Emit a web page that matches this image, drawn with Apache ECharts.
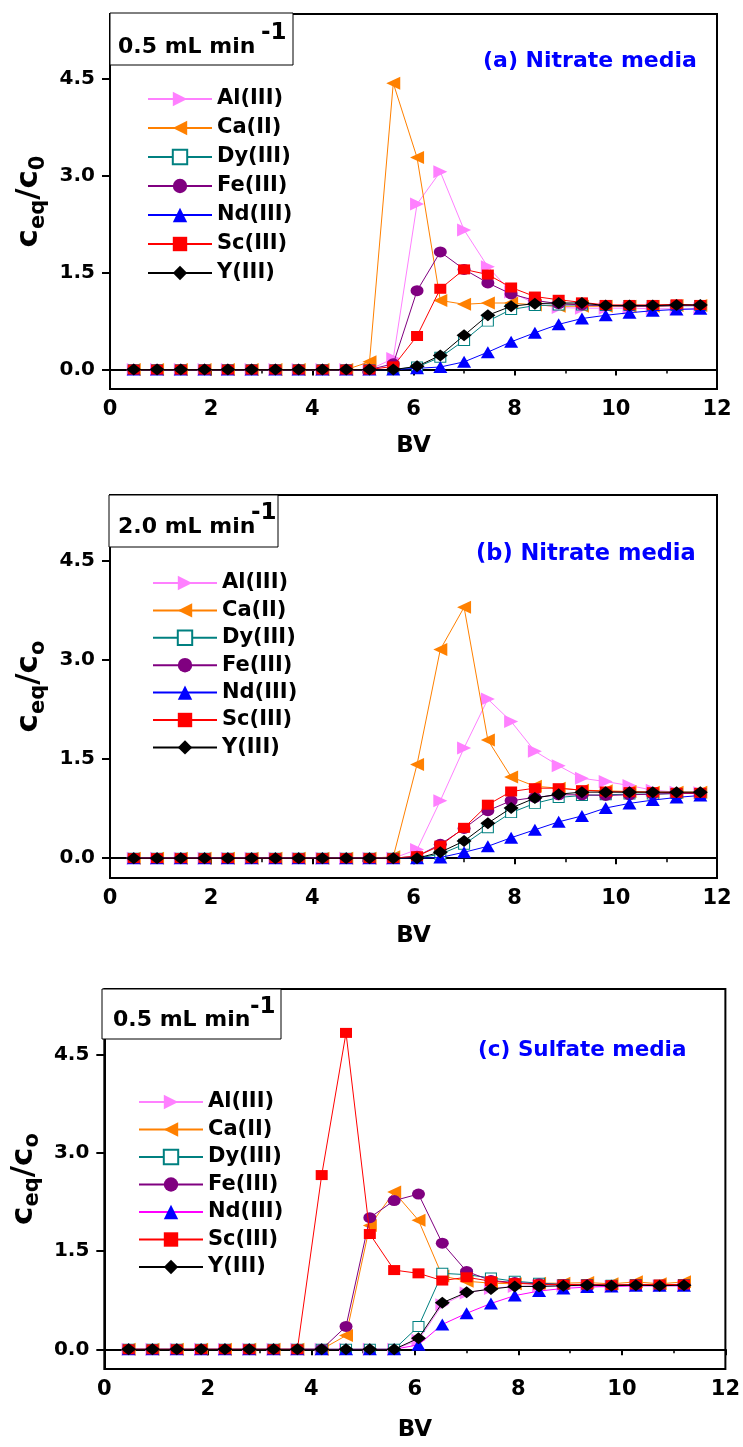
<!DOCTYPE html>
<html>
<head>
<meta charset="utf-8">
<script src="https://cdn.jsdelivr.net/npm/echarts@6/dist/echarts.min.js"></script>
<style>
  body { margin: 0; background: #fff; }
  .panel { position: absolute; left: 0; width: 743px; }
</style>
</head>
<body>
<div id="panelA" class="panel" style="top:0;height:482px"></div>
<div id="panelB" class="panel" style="top:482px;height:482px"></div>
<div id="panelC" class="panel" style="top:964px;height:483px"></div>
<script>
// bed volumes
var bv = [0.47, 0.93, 1.40, 1.87, 2.33, 2.80, 3.27, 3.73, 4.20, 4.67, 5.13, 5.60, 6.07,
          6.53, 7.00, 7.47, 7.93, 8.40, 8.87, 9.33, 9.80, 10.27, 10.73, 11.20, 11.67];
var bvSulfate = [0.47, 0.93, 1.40, 1.87, 2.33, 2.80, 3.27, 3.73, 4.20, 4.67, 5.13, 5.60,
                 6.07, 6.53, 7.00, 7.47, 7.93, 8.40, 8.87, 9.33, 9.80, 10.27, 10.73, 11.20];
var elements = ['Al(III)', 'Ca(II)', 'Dy(III)', 'Fe(III)', 'Nd(III)', 'Sc(III)', 'Y(III)'];
var xTicks = [0, 2, 4, 6, 8, 10, 12];
var yTicks = [0, 1.5, 3, 4.5];

// (a) nitrate media, 0.5 mL/min
var alA = [0,0,0,0,0,0,0,0,0,0,0, 0.17, 2.56, 3.06, 2.16, 1.59, 1.20, 1.02, 0.96, 0.95, 0.95, 0.95, 0.94, 0.94, 0.94];
var caA = [0,0,0,0,0,0,0,0,0,0, 0.12, 4.43, 3.28, 1.07, 1.01, 1.03, 1.03, 1.00, 0.98, 0.98, 0.98, 0.98, 0.98, 0.99, 0.99];
var dyA = [0,0,0,0,0,0,0,0,0,0,0,0, 0.04, 0.19, 0.45, 0.75, 0.93, 0.99, 1.00, 1.00, 0.99, 0.99, 0.99, 0.99, 0.99];
var feA = [0,0,0,0,0,0,0,0,0,0,0, 0.09, 1.22, 1.82, 1.55, 1.34, 1.17, 1.07, 1.02, 1.00, 0.99, 0.98, 0.98, 0.99, 0.99];
var ndA = [0,0,0,0,0,0,0,0,0,0,0,0, 0.02, 0.04, 0.12, 0.27, 0.43, 0.57, 0.70, 0.79, 0.84, 0.88, 0.91, 0.93, 0.94];
var scA = [0,0,0,0,0,0,0,0,0,0,0, 0.05, 0.52, 1.25, 1.55, 1.47, 1.27, 1.13, 1.08, 1.04, 1.00, 1.00, 1.00, 1.01, 1.00];
var yA  = [0,0,0,0,0,0,0,0,0,0,0,0, 0.05, 0.22, 0.53, 0.84, 0.98, 1.02, 1.03, 1.03, 0.99, 0.99, 0.99, 1.00, 1.00];

// (b) nitrate media, 2.0 mL/min
var alB = [0,0,0,0,0,0,0,0,0,0,0,0, 0.13, 0.87, 1.67, 2.41, 2.07, 1.62, 1.40, 1.21, 1.16, 1.10, 1.03, 1.00, 0.99];
var caB = [0,0,0,0,0,0,0,0,0,0,0, 0.02, 1.42, 3.16, 3.80, 1.79, 1.23, 1.09, 1.06, 1.03, 1.02, 1.01, 1.00, 1.00, 1.00];
var dyB = [0,0,0,0,0,0,0,0,0,0,0,0, 0, 0.06, 0.21, 0.46, 0.69, 0.83, 0.92, 0.95, 0.96, 0.97, 0.97, 0.98, 0.98];
var feB = [0,0,0,0,0,0,0,0,0,0,0,0, 0.03, 0.21, 0.45, 0.72, 0.87, 0.92, 0.96, 0.96, 0.95, 0.96, 0.97, 0.98, 0.98];
var ndB = [0,0,0,0,0,0,0,0,0,0,0,0, 0, 0.01, 0.09, 0.18, 0.31, 0.43, 0.55, 0.64, 0.76, 0.83, 0.88, 0.92, 0.95];
var scB = [0,0,0,0,0,0,0,0,0,0,0,0, 0.03, 0.19, 0.46, 0.81, 1.01, 1.06, 1.06, 1.03, 1.01, 1.00, 1.00, 0.99, 0.99];
var yB  = [0,0,0,0,0,0,0,0,0,0,0,0, 0, 0.09, 0.26, 0.53, 0.76, 0.91, 0.97, 1.00, 1.00, 1.00, 1.00, 1.00, 1.00];

// (c) sulfate media, 0.5 mL/min
var alC = [0,0,0,0,0,0,0,0,0,0,0,0, 0.14, 0.68, 0.86, 0.93, 0.96, 0.97, 0.97, 0.97, 0.96, 0.97, 0.97, 0.97];
var caC = [0,0,0,0,0,0,0,0,0, 0.21, 1.89, 2.40, 1.97, 1.12, 1.04, 1.01, 1.00, 1.01, 1.01, 1.02, 1.00, 1.03, 1.00, 1.03];
var dyC = [0,0,0,0,0,0,0,0,0,0,0,0, 0.35, 1.16, 1.14, 1.09, 1.04, 1.01, 0.99, 0.99, 0.98, 0.99, 0.98, 0.99];
var feC = [0,0,0,0,0,0,0,0,0, 0.35, 2.01, 2.27, 2.37, 1.62, 1.19, 1.05, 1.02, 1.00, 0.99, 0.99, 0.98, 0.99, 0.98, 0.99];
var ndC = [0,0,0,0,0,0,0,0,0,0,0,0, 0.07, 0.38, 0.55, 0.70, 0.82, 0.89, 0.93, 0.95, 0.96, 0.97, 0.97, 0.97];
var scC = [0,0,0,0,0,0,0,0, 2.66, 4.83, 1.76, 1.21, 1.16, 1.05, 1.10, 1.04, 1.01, 0.99, 0.99, 0.99, 0.98, 0.99, 0.99, 0.99];
var yC  = [0,0,0,0,0,0,0,0,0,0,0,0, 0.17, 0.71, 0.87, 0.92, 0.96, 0.96, 0.97, 0.98, 0.97, 0.98, 0.97, 0.98];

var FONT = "'DejaVu Sans', sans-serif";

// marker look for each element, same order as elements
var markers = [
  { symbol: 'triangle', size: [13, 14], rotate: -90, color: '#ff80ff', fill: '#ff80ff' },
  { symbol: 'triangle', size: [13, 14], rotate: 90, color: '#ff8000', fill: '#ff8000' },
  { symbol: 'rect', size: [11, 10], rotate: 0, color: '#008080', fill: '#ffffff' },
  { symbol: 'circle', size: [13, 11], rotate: 0, color: '#800080', fill: '#800080' },
  { symbol: 'triangle', size: [14, 12], rotate: 0, color: '#0000ff', fill: '#0000ff' },
  { symbol: 'rect', size: [12, 10], rotate: 0, color: '#ff0000', fill: '#ff0000' },
  { symbol: 'diamond', size: [15, 12], rotate: 0, color: '#000000', fill: '#000000' }
];

function buildSeries(xs, sets, lineColors) {
  var out = [];
  for (var i = 0; i < sets.length; i++) {
    var m = markers[i];
    var pts = [];
    for (var j = 0; j < xs.length; j++) pts.push([xs[j], sets[i][j]]);
    out.push({
      name: elements[i],
      type: 'line',
      data: pts,
      symbol: m.symbol,
      symbolSize: m.size,
      symbolRotate: m.rotate,
      showAllSymbol: true,
      animation: false,
      itemStyle: { color: m.fill, borderColor: m.color, borderWidth: m.fill === '#ffffff' ? 1 : 0 },
      lineStyle: { color: (lineColors && lineColors[i]) || m.color, width: 1 },
      z: 2 + i
    });
  }
  return out;
}

function makePanel(id, cfg) {
  var chart = echarts.init(document.getElementById(id), null, { renderer: 'canvas' });
  var g = cfg.grid;
  chart.setOption({
    backgroundColor: '#fff',
    animation: false,
    textStyle: { fontFamily: FONT },
    title: {
      text: cfg.title, left: cfg.titlePos[0], top: cfg.titlePos[1],
      padding: 0,
      textStyle: { color: '#0000ff', fontSize: cfg.titleSize, fontWeight: 'bold', fontFamily: FONT }
    },
    legend: {
      orient: 'vertical', left: cfg.legendPos[0], top: cfg.legendPos[1],
      itemWidth: 64, itemHeight: 18, itemGap: cfg.legendGap, padding: 0,
      data: elements,
      textStyle: { fontSize: 21, fontWeight: 'bold', color: '#000', fontFamily: FONT, lineHeight: 22 }
    },
    grid: {
      left: g.left, top: g.top, width: g.width, height: g.height,
      show: true, borderColor: '#000', borderWidth: 2, backgroundColor: 'transparent'
    },
    xAxis: {
      type: 'value', min: 0, max: 12, interval: 2,
      name: 'BV', nameLocation: 'middle', nameGap: cfg.bvGap,
      nameTextStyle: { fontSize: 23, fontWeight: 'bold', color: '#000', fontFamily: FONT },
      axisLine: { lineStyle: { color: '#000', width: 2 } },
      axisTick: { inside: false, length: 6, lineStyle: { color: '#000', width: 2 } },
      minorTick: { show: true, splitNumber: 2, length: 4, lineStyle: { color: '#000', width: 1.5 } },
      axisLabel: {
        margin: 10, fontSize: 21, fontWeight: 'bold', color: '#000', fontFamily: FONT,
        customValues: xTicks
      },
      splitLine: { show: false }
    },
    yAxis: {
      type: 'value', min: -0.3, max: 5.5,
      name: cfg.yName, nameLocation: 'middle', nameGap: cfg.yGap, nameRotate: 90,
      nameTextStyle: {
        color: '#000', fontFamily: FONT, fontWeight: 'bold',
        rich: {
          m: { fontSize: 31, fontWeight: 'bold', fontFamily: FONT, lineHeight: 32, verticalAlign: 'top' },
          s: { fontSize: 21, fontWeight: 'bold', fontFamily: FONT, lineHeight: 22, padding: [14, 0, 0, 0], verticalAlign: 'top' }
        }
      },
      axisLine: { show: true, lineStyle: { color: '#000', width: 2 } },
      axisTick: { show: true, inside: false, length: 8, lineStyle: { color: '#000', width: 2 }, customValues: yTicks },
      axisLabel: {
        margin: 15, fontSize: 20, fontWeight: 'bold', color: '#000', fontFamily: FONT,
        customValues: yTicks,
        formatter: function (v) { return v.toFixed(1); }
      },
      splitLine: { show: false }
    },
    graphic: [
      {
        type: 'rect', z: 50,
        shape: { x: cfg.box[0], y: cfg.box[1], width: cfg.box[2], height: cfg.box[3] },
        style: { fill: '#fff', stroke: '#000', lineWidth: 1 }
      },
      {
        type: 'text', z: 51,
        style: { x: cfg.rate[0], y: cfg.rate[1], text: cfg.rateText, fill: '#000',
                 font: 'bold 22px ' + FONT, verticalAlign: 'middle' }
      },
      {
        type: 'text', z: 51,
        style: { x: cfg.sup[0], y: cfg.sup[1], text: '-1', fill: '#000',
                 font: 'bold 23px ' + FONT, verticalAlign: 'middle' }
      }
    ],
    series: buildSeries(cfg.xs, cfg.sets, cfg.lineColors)
  });
  return chart;
}

var chartA = makePanel('panelA', {
  grid: { left: 110, top: 14, width: 607, height: 375 },
  title: '(a) Nitrate media', titlePos: [483, 50], titleSize: 22,
  legendPos: [147, 88], legendGap: 7,
  box: [110, 13, 183, 52], rateText: '0.5 mL min', rate: [118, 47], sup: [261, 33],
  yName: '{m|c}{s|eq}{m|/c}{s|0}', yGap: 58, bvGap: 46,
  xs: bv, sets: [alA, caA, dyA, feA, ndA, scA, yA]
});

var chartB = makePanel('panelB', {
  grid: { left: 110, top: 13, width: 607, height: 383 },
  title: '(b) Nitrate media', titlePos: [476, 61], titleSize: 22.5,
  legendPos: [152, 90], legendGap: 5.4,
  box: [109, 13, 169, 52], rateText: '2.0 mL min', rate: [118, 45], sup: [251, 31],
  yName: '{m|c}{s|eq}{m|/c}{s|o}', yGap: 58, bvGap: 47,
  xs: bv, sets: [alB, caB, dyB, feB, ndB, scB, yB]
});

var chartC = makePanel('panelC', {
  grid: { left: 102, top: 25, width: 625, height: 384 },
  title: '(c) Sulfate media', titlePos: [478, 75], titleSize: 21.5,
  legendPos: [138, 127], legendGap: 5.5,
  box: [102, 25, 179, 50], rateText: '0.5 mL min', rate: [113, 56], sup: [250, 43],
  yName: '{m|c}{s|eq}{m|/c}{s|o}', yGap: 56, bvGap: 50,
  xs: bvSulfate, sets: [alC, caC, dyC, feC, ndC, scC, yC],
  lineColors: [null, null, null, null, '#ff00ff', null, null]
});
</script>
</body>
</html>
